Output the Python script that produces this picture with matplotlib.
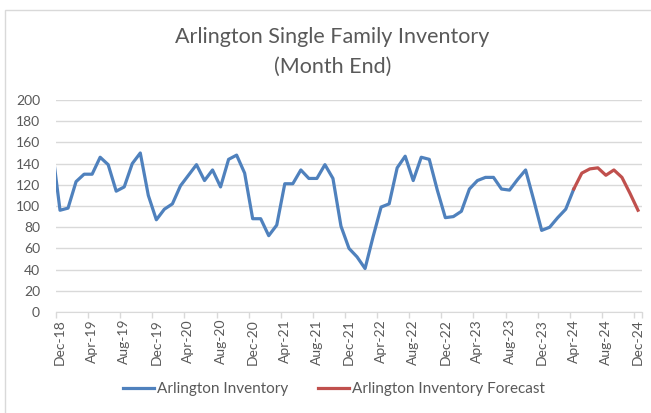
import matplotlib
matplotlib.use("Agg")
import matplotlib.pyplot as plt
from matplotlib.lines import Line2D
from matplotlib.patches import Rectangle

plt.rcParams["font.family"] = ["Lato", "DejaVu Sans"]

# monthly inventory, Nov-18 (clipped at the left edge) through Apr-24
actual = [156,
          96, 98, 123, 130, 130, 146, 139, 114, 118, 140, 150, 110,
          87, 97, 102, 119, 129, 139, 124, 134, 118, 144, 148, 131,
          88, 88, 72, 82, 121, 121, 134, 126, 126, 139, 126, 81,
          60, 52, 41, 71, 99, 102, 136, 147, 124, 146, 144, 115,
          89, 90, 95, 116, 124, 127, 127, 116, 115, 125, 134, 106,
          77, 80, 89, 97, 116]
# forecast, Apr-24 through Dec-24
forecast = [116, 131, 135, 136, 129, 134, 127, 112, 96]

tick_labels = ["Dec-18", "Apr-19", "Aug-19", "Dec-19", "Apr-20", "Aug-20", "Dec-20",
               "Apr-21", "Aug-21", "Dec-21", "Apr-22", "Aug-22", "Dec-22", "Apr-23",
               "Aug-23", "Dec-23", "Apr-24", "Aug-24", "Dec-24"]

BLUE = "#4F81BD"
RED = "#C0504D"
GREY = "#595959"
GRID = "#D9D9D9"

x_act = list(range(-1, len(actual) - 1))          # Dec-18 is 0
x_fc = list(range(x_act[-1], x_act[-1] + len(forecast)))

fig = plt.figure(figsize=(6.51, 4.13), dpi=100)
ax = fig.add_axes([56 / 651, 1 - 312 / 413, 586 / 651, 212 / 413])

ax.plot(x_act, actual, color=BLUE, lw=2.3, solid_joinstyle="round", zorder=3)
ax.plot(x_fc, forecast, color=RED, lw=2.3, solid_joinstyle="round", zorder=3)

ax.set_xlim(-0.5, 72.5)
ax.set_ylim(0, 200)
ax.set_yticks(range(0, 201, 20))
ax.yaxis.grid(True, color=GRID, lw=1)
ax.set_axisbelow(True)
ax.tick_params(axis="y", length=0, labelsize=10, labelcolor=GREY, pad=11.5)

ax.set_xticks(range(0, 73, 4))
ax.set_xticklabels(tick_labels, rotation=90)
ax.set_xticks([b - 0.5 for b in range(0, 73, 4)] + [72.5], minor=True)
ax.tick_params(axis="x", which="major", length=0, labelsize=10, labelcolor=GREY, pad=5)
ax.tick_params(axis="x", which="minor", length=4, color=GRID, width=1)

for s in ["top", "right", "left"]:
    ax.spines[s].set_visible(False)
ax.spines["bottom"].set_color(GRID)

fig.text(0.511, 0.91, "Arlington Single Family Inventory", ha="center", va="center",
         fontsize=15.5, color=GREY)
fig.text(0.511, 0.837, "(Month End)", ha="center", va="center", fontsize=15.5, color=GREY)

handles = [Line2D([], [], color=BLUE, lw=2.3), Line2D([], [], color=RED, lw=2.3)]
fig.legend(handles, ["Arlington Inventory", "Arlington Inventory Forecast"],
           loc="center", bbox_to_anchor=(0.513, 1 - 389 / 413), ncol=2, frameon=False,
           fontsize=11, labelcolor=GREY, handlelength=2.0, handletextpad=0.2,
           columnspacing=2.0)

fig.patches.append(Rectangle((5 / 651, -0.01), 1.0, 1.0 - 6 / 413, transform=fig.transFigure,
                             fill=False, edgecolor=GRID, lw=1))

fig.savefig("out.png", dpi=100)
